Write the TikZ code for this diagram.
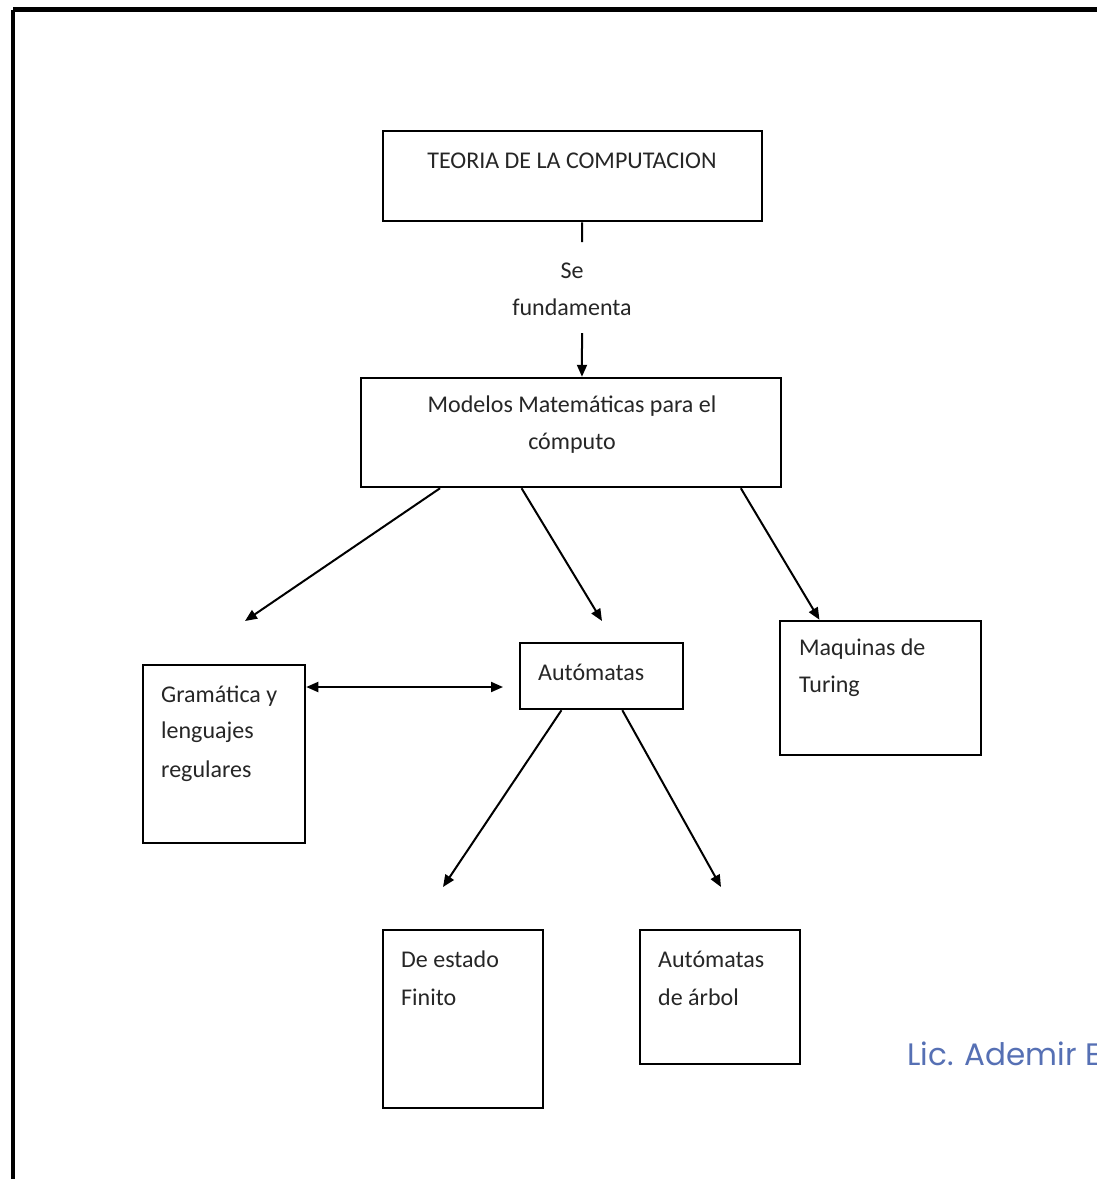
\documentclass[tikz,border=0pt]{standalone}
\usepackage{fontspec}
\setmainfont{Carlito}
\newfontfamily\sigfont{Poppins}
\usetikzlibrary{arrows.meta,calc}
\definecolor{sigblue}{RGB}{86,112,180}
\begin{document}
\begin{tikzpicture}[x=1pt,y=-1pt,
  box/.style={draw,line width=2.5pt,inner sep=0pt},
  txt/.style={anchor=base west,inner sep=0pt,font=\fontsize{24}{30}\selectfont,text=black!85},
  ctxt/.style={anchor=base,inner sep=0pt,font=\fontsize{24}{30}\selectfont,text=black!85},
  arr/.style={line width=2pt,-{Triangle[length=12pt,width=10pt]}},
  darr/.style={line width=2pt,{Triangle[length=12pt,width=10pt]}-{Triangle[length=12pt,width=10pt]}}]
\useasboundingbox (0,0) rectangle (1097,1179);
\fill[white] (0,0) rectangle (1097,1179);
% outer frame
\draw[line width=4.5pt] (13,9.5) -- (1120,9.5);
\draw[line width=4.5pt] (13,9.5) -- (13,1200);
% boxes
\node[box,minimum width=379pt,minimum height=90pt] (teoria) at (572.5,176) {};
\node[box,minimum width=420pt,minimum height=109pt] (modelos) at (571,432.5) {};
\node[box,minimum width=162pt,minimum height=178pt] (gram) at (224,754) {};
\node[box,minimum width=163pt,minimum height=66pt] (autom) at (601.5,676) {};
\node[box,minimum width=201pt,minimum height=134pt] (maq) at (880.5,688) {};
\node[box,minimum width=160pt,minimum height=178pt] (estado) at (463,1019) {};
\node[box,minimum width=160pt,minimum height=134pt] (arbol) at (720,997) {};
% texts
\node[ctxt] (t1) at (572,168) {TEORIA DE LA COMPUTACION};
\node[ctxt] (l1) at (572,278) {Se};
\node[ctxt] (l2) at (572,315) {fundamenta};
\node[ctxt] (m1) at (572,412) {Modelos Matemáticas para el};
\node[ctxt] (m2) at (572,449) {cómputo};
\node[txt] (g1) at (161,702) {Gramática y};
\node[txt] (g2) at (161,738) {lenguajes};
\node[txt] (g3) at (161,777) {regulares};
\node[txt] (a1) at (538,680) {Autómatas};
\node[txt] (q1) at (799,655) {Maquinas de};
\node[txt] (q2) at (799,692) {Turing};
\node[txt] (e1) at (401,967) {De estado};
\node[txt] (e2) at (401,1005) {Finito};
\node[txt] (b1) at (658,967) {Autómatas};
\node[txt] (b2) at (658,1005) {de árbol};
\node[anchor=base west,inner sep=0pt,font=\sigfont\fontsize{31}{36}\selectfont,text=sigblue] (sig) at (907,1065) {Lic. Ademir E};
% connector free ends
\coordinate (tstop) at (582,242);
\coordinate (astart) at (582,333);
\coordinate (pg) at (245,621);
\coordinate (pa) at (602,621);
\coordinate (pdbl) at (503,687);
\coordinate (pe) at (443,887);
\coordinate (pb) at (721,887);
% connectors
\draw[line width=2pt] ($(teoria.south west)!0.525!(teoria.south east)$) -- (tstop);
\draw[arr] (astart) -- ($(modelos.north west)!0.526!(modelos.north east)$);
\draw[arr] ($(modelos.south west)!0.19!(modelos.south east)$) -- (pg);
\draw[arr] ($(modelos.south west)!0.383!(modelos.south east)$) -- (pa);
\draw[arr] ($(modelos.south west)!0.902!(modelos.south east)$) -- ($(maq.north west)!0.2!(maq.north east)$);
\draw[darr] (pdbl -| gram.east) -- (pdbl);
\draw[arr] ($(autom.south west)!0.258!(autom.south east)$) -- (pe);
\draw[arr] ($(autom.south west)!0.626!(autom.south east)$) -- (pb);
\end{tikzpicture}
\end{document}
